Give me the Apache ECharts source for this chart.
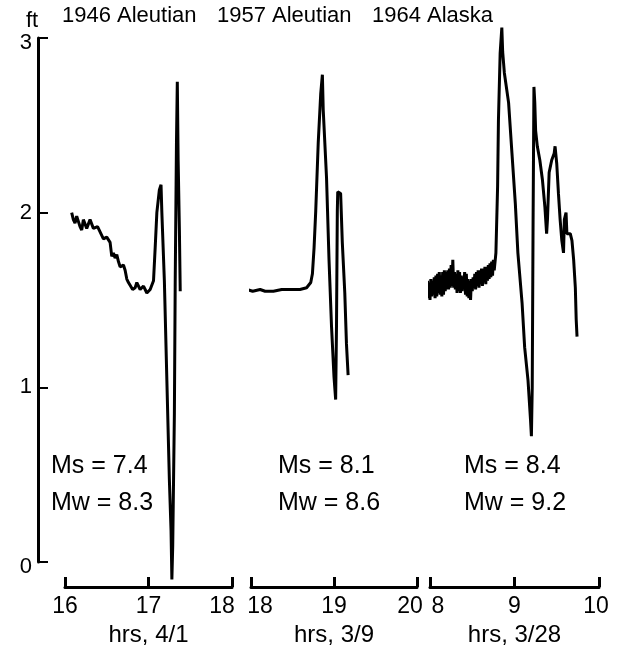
<!DOCTYPE html>
<html>
<head>
<meta charset="utf-8">
<script src="https://cdn.jsdelivr.net/npm/echarts@6/dist/echarts.min.js"></script>
<style>html,body{margin:0;padding:0;background:#fff}#c{width:628px;height:652px}</style>
</head>
<body>
<div id="c"></div>
<script>
// ---- data ----
const titles = ['1946 Aleutian', '1957 Aleutian', '1964 Alaska'];
const axisNames = ['hrs, 4/1', 'hrs, 3/9', 'hrs, 3/28'];
const yUnit = 'ft';
const xRanges = [[16, 18], [18, 20], [8, 10]];
const yTicks = [0, 1, 2, 3];
const msLabels = ['Ms = 7.4', 'Ms = 8.1', 'Ms = 8.4'];
const mwLabels = ['Mw = 8.3', 'Mw = 8.6', 'Mw = 9.2'];

const t1946 = [16.08,16.10,16.12,16.14,16.16,16.18,16.20,16.22,16.24,16.26,16.28,16.30,16.32,16.34,16.36,16.39,16.42,16.46,16.50,16.54,16.56,16.58,16.60,16.62,16.64,16.66,16.68,16.70,16.72,16.74,16.76,16.78,16.81,16.84,16.86,16.88,16.90,16.92,16.94,16.96,16.98,17.00,17.02,17.04,17.06,17.08,17.10,17.13,17.15,17.16,17.19,17.22,17.25,17.27,17.28,17.29,17.31,17.32,17.335,17.345,17.355,17.37,17.38];
const h1946 = [2.00,1.96,1.94,1.98,1.97,1.92,1.90,1.96,1.95,1.91,1.92,1.96,1.95,1.91,1.90,1.92,1.89,1.85,1.86,1.83,1.75,1.77,1.74,1.76,1.72,1.69,1.68,1.70,1.67,1.62,1.60,1.59,1.56,1.57,1.60,1.59,1.56,1.57,1.58,1.56,1.54,1.54,1.56,1.55,1.61,1.80,2.00,2.13,2.16,2.00,1.61,1.04,0.47,0.18,-0.10,0.09,0.85,1.61,2.40,2.75,2.30,1.90,1.55];

const t1957 = [17.955,18.02,18.11,18.17,18.27,18.37,18.47,18.59,18.67,18.72,18.74,18.76,18.78,18.81,18.84,18.86,18.87,18.91,18.94,18.97,19.00,19.02,19.03,19.04,19.045,19.08,19.10,19.13,19.15,19.17];
const h1957 = [1.56,1.55,1.56,1.55,1.55,1.56,1.56,1.56,1.57,1.60,1.65,1.80,2.01,2.40,2.68,2.79,2.59,2.20,1.73,1.35,1.06,0.93,1.35,2.01,2.12,2.11,1.83,1.54,1.25,1.07];

const t1964 = [7.96,7.97,7.98,7.99,8.00,8.01,8.02,8.03,8.04,8.05,8.06,8.07,8.08,8.09,8.10,8.11,8.12,8.13,8.14,8.15,8.16,8.17,8.18,8.19,8.20,8.21,8.22,8.23,8.24,8.25,8.26,8.27,8.28,8.29,8.30,8.31,8.32,8.33,8.34,8.35,8.36,8.37,8.38,8.39,8.40,8.41,8.42,8.43,8.44,8.45,8.46,8.47,8.48,8.49,8.50,8.51,8.52,8.53,8.54,8.55,8.56,8.57,8.58,8.59,8.60,8.61,8.62,8.63,8.64,8.65,8.66,8.67,8.68,8.69,8.70,8.71,8.72,8.73,8.74,8.75,8.76,
  8.78,8.80,8.81,8.83,8.85,8.86,8.88,8.93,8.97,9.01,9.04,9.09,9.12,9.16,9.19,9.20,9.21,9.22,9.23,9.24,9.25,9.27,9.30,9.33,9.36,9.38,9.39,9.41,9.44,9.47,9.48,9.50,9.52,9.54,9.56,9.58,9.59,9.61,9.62,9.66,9.68,9.70,9.72,9.73,9.74];
const h1964 = [1.57,1.61,1.51,1.60,1.50,1.62,1.52,1.61,1.53,1.63,1.51,1.64,1.52,1.65,1.54,1.66,1.53,1.64,1.52,1.66,1.53,1.67,1.55,1.66,1.56,1.67,1.56,1.68,1.57,1.70,1.58,1.73,1.57,1.66,1.56,1.65,1.54,1.67,1.55,1.66,1.54,1.64,1.55,1.63,1.56,1.66,1.53,1.65,1.52,1.62,1.51,1.61,1.50,1.62,1.55,1.63,1.57,1.65,1.56,1.66,1.58,1.67,1.57,1.67,1.59,1.68,1.58,1.68,1.60,1.69,1.59,1.69,1.61,1.70,1.62,1.71,1.63,1.72,1.64,1.73,1.67,
  1.77,2.15,2.53,2.91,3.06,2.92,2.80,2.63,2.34,2.05,1.77,1.48,1.23,1.04,0.81,0.72,1.00,1.96,2.72,2.63,2.47,2.38,2.30,2.19,2.03,1.88,1.96,2.23,2.30,2.34,2.38,2.28,2.11,1.96,1.84,1.77,1.96,2.00,1.88,1.88,1.84,1.73,1.57,1.39,1.29];

const records = [[t1946, h1946], [t1957, h1957], [t1964, h1964]];

// ---- layout ----
const gridDefs = [{left: 65, width: 167}, {left: 251, width: 166}, {left: 430, width: 169}];
const FONT = 'Liberation Sans, Arial, sans-serif';
const black = '#000';

const grids = gridDefs.map(g => ({left: g.left, width: g.width, top: 38, height: 524}));
// per-label nudges (left/right padding) for end labels
const labelPad = [
  {min: [0, 0], max: [0, 20]},
  {min: [18, 0], max: [0, 14]},
  {min: [16, 0], max: [0, 6]}
];

const xAxes = xRanges.map((r, i) => ({
  type: 'value', gridIndex: i, min: r[0], max: r[1], interval: 1, offset: 25,
  axisLine: {show: true, onZero: false, lineStyle: {color: black, width: 3}},
  axisTick: {show: true, inside: true, length: 10, lineStyle: {color: black, width: 3}},
  axisLabel: {color: black, fontSize: 23, fontFamily: FONT, margin: 8,
    formatter: v => v === r[0] ? '{a|' + v + '}' : (v === r[1] ? '{b|' + v + '}' : '{c|' + v + '}'),
    rich: {
      a: {fontSize: 23, fontFamily: FONT, color: black, padding: [0, labelPad[i].min[1], 0, labelPad[i].min[0]]},
      b: {fontSize: 23, fontFamily: FONT, color: black, padding: [0, labelPad[i].max[1], 0, labelPad[i].max[0]]},
      c: {fontSize: 23, fontFamily: FONT, color: black}
    }},
  splitLine: {show: false},
  name: axisNames[i], nameLocation: 'middle', nameGap: 35,
  nameTextStyle: {color: black, fontSize: 24, fontFamily: FONT}
}));

const yAxes = [0, 1, 2].map(i => ({
  type: 'value', gridIndex: i, min: yTicks[0], max: yTicks[yTicks.length - 1], interval: 1,
  show: i === 0, offset: 27,
  axisLine: {show: true, onZero: false, lineStyle: {color: black, width: 3}},
  axisTick: {show: true, inside: true, length: 10, lineStyle: {color: black, width: 2}},
  axisLabel: {color: black, fontSize: 22, fontFamily: FONT, margin: 6,
    formatter: v => (v === yTicks[0] || v === yTicks[yTicks.length - 1]) ? '{e|' + v + '}' : '{m|' + v + '}',
    rich: {
      e: {fontSize: 22, fontFamily: FONT, color: black, padding: [10, 0, 0, 0]},
      m: {fontSize: 22, fontFamily: FONT, color: black}
    }},
  splitLine: {show: false}
}));

const series = records.map((rec, i) => ({
  type: 'line', xAxisIndex: i, yAxisIndex: i, showSymbol: false, clip: false,
  lineStyle: {color: black, width: 3}, animation: false,
  data: rec[0].map((t, k) => [t, rec[1][k]])
}));

const titleX = [62, 217, 372];
const annX = [51, 278, 464];
const graphics = [{type: 'text', left: 26, top: 10,
  style: {text: yUnit, fill: black, font: '22px ' + FONT}}];
titles.forEach((t, i) => graphics.push({type: 'text', left: titleX[i], top: 5,
  style: {text: t, fill: black, font: '22px ' + FONT}}));
msLabels.forEach((t, i) => graphics.push({type: 'text', left: annX[i], top: 454,
  style: {text: t, fill: black, font: '25px ' + FONT}}));
mwLabels.forEach((t, i) => graphics.push({type: 'text', left: annX[i], top: 491,
  style: {text: t, fill: black, font: '25px ' + FONT}}));

const chart = echarts.init(document.getElementById('c'), null, {renderer: 'canvas'});
chart.setOption({
  animation: false,
  backgroundColor: '#fff',
  grid: grids, xAxis: xAxes, yAxis: yAxes, series: series, graphic: graphics
});
</script>
</body>
</html>
